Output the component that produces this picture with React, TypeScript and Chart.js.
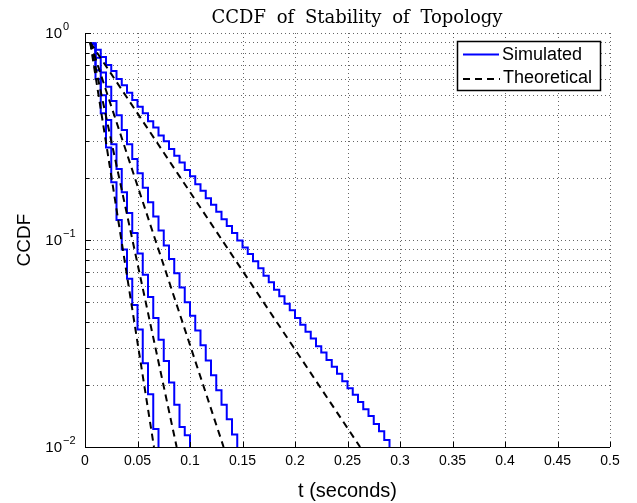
import React, { useEffect, useRef } from 'react';
import { Chart, registerables } from 'chart.js';

Chart.register(...registerables);

// ---- data ----
const simTimes = [
  0.005, 0.01, 0.015, 0.02, 0.025, 0.03, 0.035, 0.04, 0.045, 0.05,
  0.055, 0.06, 0.065, 0.07, 0.075, 0.08, 0.085, 0.09, 0.095, 0.1,
  0.105, 0.11, 0.115, 0.12, 0.125, 0.13, 0.135, 0.14, 0.145, 0.15,
  0.155, 0.16, 0.165, 0.17, 0.175, 0.18, 0.185, 0.19, 0.195, 0.2,
  0.205, 0.21, 0.215, 0.22, 0.225, 0.23, 0.235, 0.24, 0.245, 0.25,
  0.255, 0.26, 0.265, 0.27, 0.275, 0.28, 0.285, 0.29,
];

const simulatedA = [
  0.89, 0.83, 0.765, 0.7, 0.655, 0.6, 0.56, 0.515, 0.475, 0.44,
  0.41, 0.375, 0.35, 0.32, 0.3, 0.275, 0.255, 0.237, 0.218, 0.203,
  0.186, 0.173, 0.159, 0.148, 0.137, 0.126, 0.117, 0.108, 0.0995, 0.092,
  0.0855, 0.079, 0.073, 0.0672, 0.0625, 0.0575, 0.0535, 0.0492, 0.0458, 0.042,
  0.039, 0.036, 0.0334, 0.0307, 0.0286, 0.0263, 0.0244, 0.0226, 0.0208, 0.0192,
  0.0179, 0.0165, 0.0152, 0.0141, 0.0129, 0.0119, 0.0108, 0.0094,
];
const simulatedB = [
  0.89, 0.76, 0.645, 0.55, 0.47, 0.4, 0.34, 0.29, 0.246, 0.21,
  0.179, 0.152, 0.13, 0.111, 0.094, 0.081, 0.069, 0.059, 0.05, 0.043,
  0.0365, 0.031, 0.0262, 0.0222, 0.0188, 0.016, 0.0136, 0.0115, 0.0095,
];
const simulatedC = [
  0.88, 0.66, 0.5, 0.38, 0.29, 0.22, 0.17, 0.135, 0.108, 0.086,
  0.068, 0.053, 0.042, 0.033, 0.026, 0.0205, 0.016, 0.0125, 0.0114, 0.008,
];
const simulatedD = [
  0.89, 0.6, 0.41, 0.28, 0.19, 0.125, 0.09, 0.065, 0.0485, 0.037,
  0.0254, 0.018, 0.0122, 0.0085,
];

const theoryStartTime = 0.005;
const theoryStartValue = 0.9;
const theoryEndTimes = [0.262, 0.132, 0.0873, 0.0657];
const theoryEndValue = 0.01;

const xTickValues = [0, 0.05, 0.1, 0.15, 0.2, 0.25, 0.3, 0.35, 0.4, 0.45, 0.5];
const xTickLabels = ['0', '0.05', '0.1', '0.15', '0.2', '0.25', '0.3', '0.35', '0.4', '0.45', '0.5'];
const yGridValues = [
  0.01, 0.02, 0.03, 0.04, 0.05, 0.06, 0.07, 0.08, 0.09,
  0.1, 0.2, 0.3, 0.4, 0.5, 0.6, 0.7, 0.8, 0.9, 1,
];
const yMajorValues = [1, 0.1, 0.01];
const yMajorExponents = ['0', '\u22121', '\u22122'];

const titleText = 'CCDF of Stability of Topology';
const xTitle = 't (seconds)';
const yTitle = 'CCDF';
const legendLabels = ['Simulated', 'Theoretical'];

const BLUE = '#0000ff';
const SANS = '"Liberation Sans", Arial, sans-serif';

const decorPlugin = {
  id: 'decor',
  beforeDatasetsDraw(chart: any) {
    const { ctx, chartArea: ca, scales } = chart;
    const xs = scales.x;
    const ys = scales.y;
    ctx.save();
    ctx.strokeStyle = 'rgba(0,0,0,0.6)';
    ctx.lineWidth = 1;
    ctx.setLineDash([1, 3]);
    xTickValues.forEach((v) => {
      if (v === 0) return;
      const x = Math.round(xs.getPixelForValue(v)) + 0.5;
      ctx.beginPath();
      ctx.moveTo(x, ca.top);
      ctx.lineTo(x, ca.bottom);
      ctx.stroke();
    });
    yGridValues.forEach((v) => {
      if (v === 0.01) return;
      const y = Math.round(ys.getPixelForValue(v)) + 0.5;
      ctx.beginPath();
      ctx.moveTo(ca.left, y);
      ctx.lineTo(ca.right, y);
      ctx.stroke();
    });
    ctx.restore();
  },
  afterDraw(chart: any) {
    const { ctx, chartArea: ca, scales } = chart;
    const xs = scales.x;
    const ys = scales.y;
    ctx.save();
    // axes
    ctx.strokeStyle = '#000';
    ctx.lineWidth = 1;
    ctx.setLineDash([]);
    ctx.beginPath();
    ctx.moveTo(ca.left + 0.5, ca.top);
    ctx.lineTo(ca.left + 0.5, ca.bottom + 0.5);
    ctx.lineTo(ca.right, ca.bottom + 0.5);
    ctx.stroke();
    // ticks
    ctx.beginPath();
    xTickValues.forEach((v) => {
      const x = Math.round(xs.getPixelForValue(v)) + 0.5;
      ctx.moveTo(x, ca.bottom);
      ctx.lineTo(x, ca.bottom - 5);
    });
    yGridValues.forEach((v) => {
      const y = Math.round(ys.getPixelForValue(v)) + 0.5;
      const major = yMajorValues.indexOf(v) >= 0;
      ctx.moveTo(ca.left, y);
      ctx.lineTo(ca.left + (major ? 6 : 4), y);
    });
    ctx.stroke();

    // y tick labels 10^k
    ctx.fillStyle = '#000';
    yMajorValues.forEach((v, i) => {
      const y = ys.getPixelForValue(v);
      ctx.font = '15px ' + SANS;
      ctx.textAlign = 'right';
      ctx.textBaseline = 'middle';
      ctx.fillText('10', ca.left - 23, y + 1);
      ctx.font = '11px ' + SANS;
      ctx.textAlign = 'left';
      ctx.textBaseline = 'alphabetic';
      ctx.fillText(yMajorExponents[i], ca.left - 22, y - 3);
    });

    // axis titles
    ctx.font = '20px ' + SANS;
    ctx.textAlign = 'center';
    ctx.textBaseline = 'middle';
    ctx.fillText(xTitle, (ca.left + ca.right) / 2, 491);
    ctx.save();
    ctx.translate(25, (ca.top + ca.bottom) / 2);
    ctx.rotate(-Math.PI / 2);
    ctx.font = '19px ' + SANS;
    ctx.fillText(yTitle, 0, 0);
    ctx.restore();

    // title
    ctx.font = '18px "DejaVu Serif", serif';
    ctx.textAlign = 'center';
    ctx.textBaseline = 'alphabetic';
    try { (ctx as any).wordSpacing = '5px'; } catch (e) {}
    ctx.fillText(titleText, 357, 23);
    try { (ctx as any).wordSpacing = '0px'; } catch (e) {}

    // legend
    const lx = ca.right - 153;
    const ly = ca.top + 8;
    const lw = 143;
    const lh = 49;
    ctx.fillStyle = '#fff';
    ctx.fillRect(lx, ly, lw, lh);
    ctx.strokeStyle = '#000';
    ctx.lineWidth = 1.5;
    ctx.strokeRect(lx + 0.5, ly + 0.5, lw, lh);
    ctx.lineWidth = 2;
    ctx.strokeStyle = BLUE;
    ctx.beginPath();
    ctx.moveTo(lx + 6, ly + 13.5);
    ctx.lineTo(lx + 42, ly + 13.5);
    ctx.stroke();
    ctx.strokeStyle = '#000';
    ctx.setLineDash([7, 5]);
    ctx.beginPath();
    ctx.moveTo(lx + 6, ly + 38);
    ctx.lineTo(lx + 43, ly + 38);
    ctx.stroke();
    ctx.setLineDash([]);
    ctx.fillStyle = '#000';
    ctx.font = '18px ' + SANS;
    ctx.textAlign = 'left';
    ctx.textBaseline = 'middle';
    ctx.fillText(legendLabels[0], lx + 45, ly + 14);
    ctx.fillText(legendLabels[1], lx + 46, ly + 37);
    ctx.restore();
  },
};

function simSeries(values: number[]) {
  return values.map((v, i) => ({ x: simTimes[i], y: v }));
}

export default function App() {
  const canvasRef = useRef<HTMLCanvasElement | null>(null);

  useEffect(() => {
    if (!canvasRef.current) return;
    const theoryDatasets = theoryEndTimes.map((t) => ({
      label: 'Theoretical',
      data: [
        { x: theoryStartTime, y: theoryStartValue },
        { x: t, y: theoryEndValue },
      ],
      borderColor: '#000',
      borderWidth: 2,
      borderDash: [7, 5],
      pointRadius: 0,
      fill: false,
    }));
    const simDatasets = [simulatedA, simulatedB, simulatedC, simulatedD].map((vals) => ({
      label: 'Simulated',
      data: simSeries(vals),
      borderColor: BLUE,
      borderWidth: 2,
      stepped: 'before' as const,
      pointRadius: 0,
      fill: false,
    }));

    const chart = new Chart(canvasRef.current, {
      type: 'line',
      data: { datasets: [...theoryDatasets, ...simDatasets] as any },
      options: {
        animation: false,
        responsive: true,
        maintainAspectRatio: false,
        layout: { padding: { top: 33, right: 27, left: 0, bottom: 0 } },
        plugins: {
          legend: { display: false },
          title: { display: false },
          tooltip: { enabled: false },
        },
        scales: {
          x: {
            type: 'linear',
            min: 0,
            max: 0.5,
            grid: { display: false, drawTicks: false },
            border: { display: false },
            afterBuildTicks: (s: any) => {
              s.ticks = xTickValues.map((v) => ({ value: v }));
            },
            ticks: {
              autoSkip: false,
              maxRotation: 0,
              padding: 6,
              color: '#000',
              font: { family: SANS, size: 14 },
              callback: (_v: any, i: number) => xTickLabels[i],
            },
            afterFit: (s: any) => {
              s.height = 56;
            },
          },
          y: {
            type: 'logarithmic',
            min: 0.01,
            max: 1,
            grid: { display: false, drawTicks: false },
            border: { display: false },
            ticks: { display: false },
            afterFit: (s: any) => {
              s.width = 85;
            },
          },
        },
      } as any,
      plugins: [decorPlugin],
    });
    return () => chart.destroy();
  }, []);

  return (
    <div style={{ position: 'fixed', left: 0, top: 0, width: 637, height: 503, background: '#fff' }}>
      <canvas ref={canvasRef} />
    </div>
  );
}
